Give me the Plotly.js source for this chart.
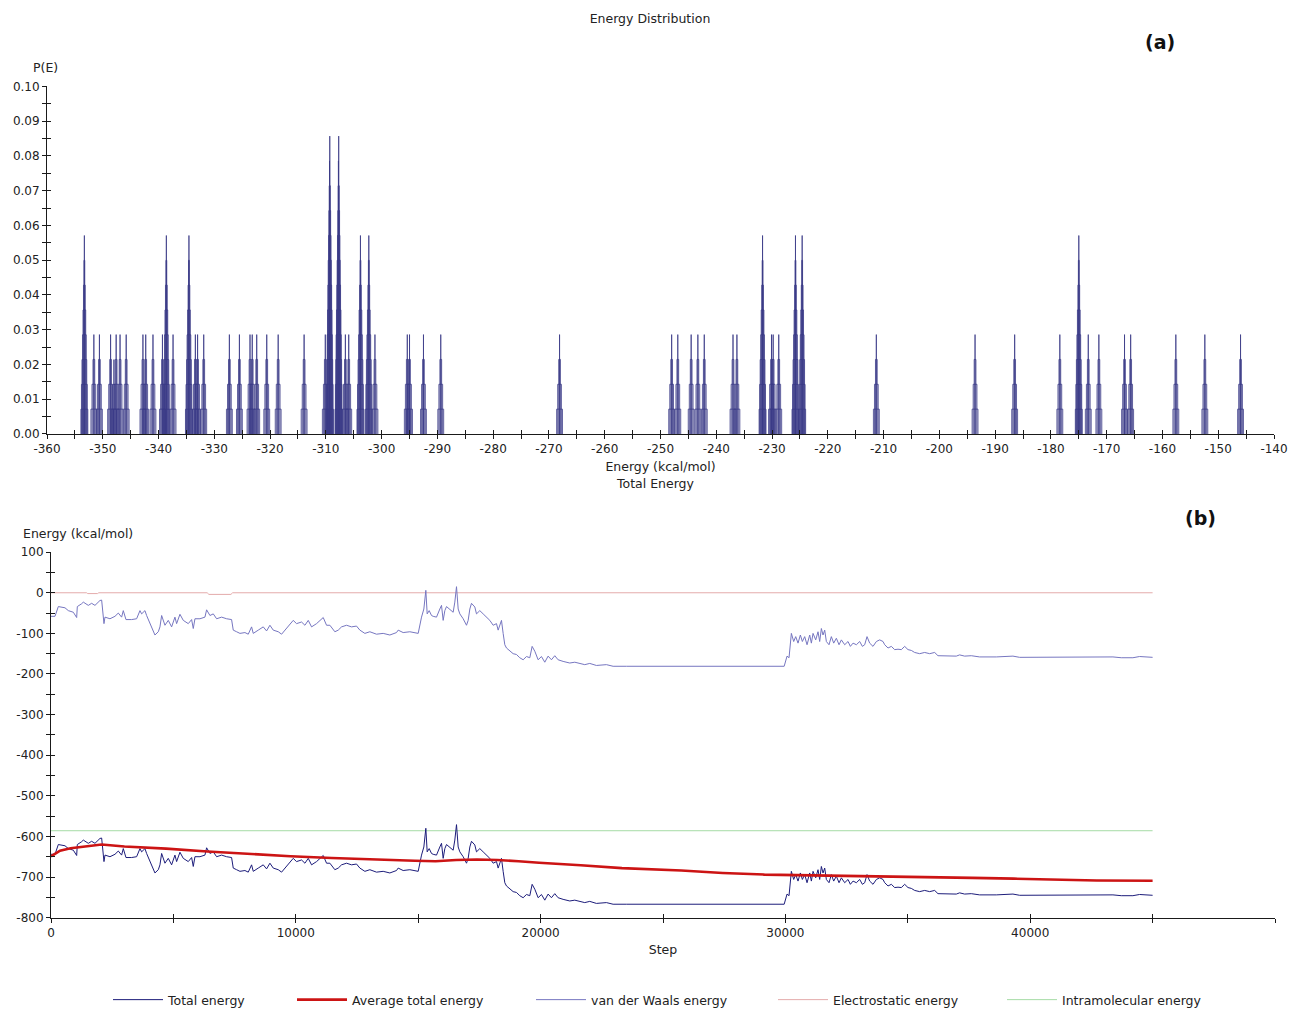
<!DOCTYPE html>
<html>
<head>
<meta charset="utf-8">
<title>Energy Distribution / Total Energy</title>
<script src="https://cdn.plot.ly/plotly-3.0.1.min.js"></script>
<style>
  html, body { margin: 0; padding: 0; background: #ffffff; }
  #chart { width: 1292px; height: 1015px; }
</style>
</head>
<body>
<div id="chart"></div>
<script>
// ---------- (a) Energy distribution: peak energies (kcal/mol) and probabilities ----------
const peakEnergy = [
  -353.3, -351.6, -350.6, -348.6, -348.0, -347.6, -346.9, -345.8, -342.8, -342.3,
  -341.0, -339.3, -338.6, -337.4, -334.55, -333.4, -333.0, -331.9, -327.3, -325.5,
  -323.6, -323.2, -322.4, -320.6, -318.55, -313.9, -310.1, -309.3, -307.7, -306.5,
  -305.9, -303.8, -302.3, -301.2, -295.4, -295.0, -292.5, -289.4, -268.1, -248.0,
  -246.9, -244.5, -243.3, -242.15, -237.0, -236.3, -231.7, -230.1, -229.8, -228.8,
  -225.8, -224.6, -211.3, -193.6, -186.5, -178.4, -175.0, -173.3, -171.4, -166.8,
  -165.7, -157.6, -152.4, -146.0
];
const peakProb = [
  0.0571, 0.0286, 0.0286, 0.0286, 0.0214, 0.0286, 0.0286, 0.0286, 0.0286, 0.0286,
  0.0286, 0.0286, 0.0571, 0.0286, 0.0571, 0.0286, 0.0286, 0.0286, 0.0286, 0.0286,
  0.0286, 0.0286, 0.0286, 0.0286, 0.0286, 0.0286, 0.0286, 0.0857, 0.0857, 0.0286,
  0.0286, 0.0571, 0.0571, 0.0286, 0.0286, 0.0286, 0.0286, 0.0286, 0.0286, 0.0286,
  0.0286, 0.0286, 0.0286, 0.0286, 0.0286, 0.0286, 0.0571, 0.0286, 0.0286, 0.0286,
  0.0571, 0.0571, 0.0286, 0.0286, 0.0286, 0.0286, 0.0571, 0.0286, 0.0286, 0.0286,
  0.0286, 0.0286, 0.0286, 0.0286
];
const probTicks = [0, 0.01, 0.02, 0.03, 0.04, 0.05, 0.06, 0.07, 0.08, 0.09, 0.10];
const energyTicks = [-360, -350, -340, -330, -320, -310, -300, -290, -280, -270, -260,
  -250, -240, -230, -220, -210, -200, -190, -180, -170, -160, -150, -140];

// ---------- (b) Energy along the simulation ----------
const mdStep = [
  0, 163, 299, 571, 708, 912, 1048, 1075, 1252, 1320,
  1524, 1660, 1796, 2001, 2069, 2164, 2205, 2409, 2613, 2749,
  2885, 2953, 3062, 3293, 3498, 3634, 3702, 3838, 3906, 4042,
  4178, 4246, 4383, 4451, 4519, 4655, 4791, 4927, 5063, 5131,
  5267, 5404, 5608, 5744, 5812, 5880, 6085, 6289, 6357, 6493,
  6629, 6765, 6969, 7173, 7377, 7445, 7582, 7718, 7922, 8058,
  8194, 8262, 8466, 8670, 8806, 8943, 9079, 9283, 9419, 9555,
  9691, 9895, 10031, 10235, 10372, 10508, 10644, 10848, 11120, 11256,
  11392, 11596, 11733, 11869, 12073, 12277, 12481, 12617, 12821, 13025,
  13297, 13569, 13842, 14114, 14182, 14386, 14658, 14862, 15000, 15136,
  15231, 15312, 15367, 15449, 15544, 15612, 15748, 15884, 15952, 16020,
  16088, 16156, 16292, 16428, 16496, 16565, 16633, 16701, 16837, 16973,
  17041, 17109, 17177, 17313, 17381, 17517, 17653, 17789, 17926, 18062,
  18198, 18266, 18402, 18470, 18538, 18606, 18742, 18878, 19014, 19150,
  19287, 19423, 19559, 19654, 19763, 19899, 20035, 20171, 20307, 20443,
  20579, 20715, 20919, 21056, 21192, 21396, 21600, 21804, 22008, 22144,
  22280, 22689, 22961, 23500, 26000, 29950, 30067, 30148, 30244, 30339,
  30421, 30516, 30611, 30693, 30788, 30884, 30993, 31061, 31129, 31238,
  31333, 31401, 31469, 31537, 31605, 31673, 31782, 31877, 31973, 32082,
  32191, 32286, 32422, 32558, 32654, 32763, 32899, 33035, 33144, 33239,
  33334, 33443, 33579, 33716, 33852, 33988, 34056, 34192, 34328, 34464,
  34600, 34736, 34872, 35008, 35144, 35280, 35484, 35689, 35893, 36097,
  36233, 36573, 36981, 37117, 37321, 37594, 37934, 38615, 39295, 39568,
  40656, 41337, 42018, 42698, 43379, 43719, 44195, 44467, 44876, 45000
];
const totalEnergy = [
  -644, -644, -620, -623, -630, -634, -647, -620, -613, -609,
  -617, -612, -617, -605, -604, -662, -646, -650, -644, -636,
  -646, -630, -652, -652, -650, -630, -638, -630, -642, -662,
  -682, -690, -682, -670, -642, -666, -654, -670, -646, -662,
  -639, -654, -662, -652, -674, -650, -650, -646, -628, -642,
  -638, -650, -646, -650, -652, -678, -682, -686, -684, -688,
  -670, -686, -678, -670, -680, -666, -678, -682, -688, -678,
  -670, -654, -662, -658, -666, -654, -670, -662, -647, -666,
  -666, -682, -678, -670, -666, -670, -668, -678, -686, -682,
  -688, -686, -690, -684, -678, -684, -682, -684, -686, -646,
  -626, -580, -638, -630, -642, -644, -646, -626, -617, -654,
  -630, -620, -626, -634, -609, -571, -626, -638, -650, -666,
  -654, -626, -612, -621, -638, -630, -638, -646, -654, -666,
  -662, -678, -654, -686, -714, -722, -730, -736, -738, -746,
  -751, -743, -746, -718, -730, -751, -743, -757, -742, -751,
  -741, -751, -755, -757, -759, -757, -760, -763, -760, -763,
  -765, -763, -767, -767, -767, -767, -742, -746, -686, -706,
  -694, -710, -690, -706, -694, -714, -690, -710, -686, -702,
  -682, -706, -674, -690, -678, -706, -714, -694, -710, -698,
  -714, -702, -714, -706, -718, -710, -714, -706, -718, -714,
  -694, -710, -718, -706, -702, -706, -714, -722, -718, -726,
  -725, -726, -718, -726, -728, -733, -736, -733, -736, -733,
  -741, -742, -742, -739, -742, -741, -744, -744, -742, -745,
  -745, -744, -745, -744, -744, -746, -746, -743, -744, -745
];
const vdwEnergy = [
  -58, -58, -34, -37, -44, -48, -61, -34, -27, -23,
  -31, -26, -31, -19, -18, -76, -60, -64, -58, -50,
  -60, -44, -66, -66, -64, -44, -52, -44, -56, -76,
  -96, -104, -96, -84, -56, -80, -68, -84, -60, -76,
  -53, -68, -76, -66, -88, -64, -64, -60, -42, -56,
  -52, -64, -60, -64, -66, -92, -96, -100, -98, -102,
  -84, -100, -92, -84, -94, -80, -92, -96, -102, -92,
  -84, -68, -76, -72, -80, -68, -84, -76, -61, -80,
  -80, -96, -92, -84, -80, -84, -82, -92, -100, -96,
  -102, -100, -104, -98, -92, -98, -96, -98, -100, -60,
  -40, 6, -52, -44, -56, -58, -60, -40, -31, -68,
  -44, -34, -40, -48, -23, 15, -40, -52, -64, -80,
  -68, -40, -26, -35, -52, -44, -52, -60, -68, -80,
  -76, -92, -68, -100, -128, -136, -144, -150, -152, -160,
  -165, -157, -160, -132, -144, -165, -157, -171, -156, -165,
  -155, -165, -169, -171, -173, -171, -174, -177, -174, -177,
  -179, -177, -181, -181, -181, -181, -156, -160, -100, -120,
  -108, -124, -104, -120, -108, -128, -104, -124, -100, -116,
  -96, -120, -88, -104, -92, -120, -128, -108, -124, -112,
  -128, -116, -128, -120, -132, -124, -128, -120, -132, -128,
  -108, -124, -132, -120, -116, -120, -128, -136, -132, -140,
  -139, -140, -132, -140, -142, -147, -150, -147, -150, -147,
  -155, -156, -156, -153, -156, -155, -158, -158, -156, -159,
  -159, -158, -159, -158, -158, -160, -160, -157, -158, -159
];
const avgStep = [0, 370, 800, 1300, 2070, 3000, 4700, 6390, 8080, 9780,
  11470, 13170, 14860, 15710, 16550, 17400, 18240, 19100, 19940, 21640,
  23320, 25750, 27440, 29140, 30830, 32540, 34240, 35930, 37630, 39330,
  41030, 42720, 45000];
const avgTotalEnergy = [-649, -635, -629, -625, -620, -625, -630, -637, -643, -649,
  -653, -657, -660, -661, -658, -657, -658, -661, -665, -671,
  -678, -684, -690, -694, -695.5, -696, -698, -700, -702, -704,
  -707, -708.5, -709];
const elecStep = [0, 1450, 1500, 1900, 1950, 6380, 6450, 7350, 7420, 45000];
const elecEnergy = [0, 0, -2, -2, 0, 0, -4, -4, 0, 0];
const intraStep = [0, 45000];
const intraEnergy = [-586, -586];
const stepTicks = [0, 10000, 20000, 30000, 40000, 50000];
const energyAxisTicks = [100, 0, -100, -200, -300, -400, -500, -600, -700, -800];

// ---------- outline towers for the distribution ----------
// each peak is drawn as nested open rectangles, one per probability level,
// narrowing towards the top so the peak ends in a single line
const LEVEL = 1 / 140;
const towerX = [], towerY = [];
peakEnergy.forEach((e, i) => {
  const p = peakProb[i];
  const n = Math.max(1, Math.round(p / LEVEL));
  for (let k = 1; k <= n; k++) {
    const f = (n - k) / n;
    const hw = 0.72 * Math.pow(f, 1.1);
    const top = p * k / n;
    towerX.push(e - hw, e - hw, e + hw, e + hw, null);
    towerY.push(0, top, top, 0, null);
  }
});

const FONT = 'DejaVu Sans, Verdana, sans-serif';
const INK = '#222222';
const LABEL = { family: FONT, size: 12.5, color: INK };

const traces = [
  { type: 'scatter', mode: 'lines', x: towerX, y: towerY, xaxis: 'x', yaxis: 'y',
    line: { color: '#3a3a86', width: 0.8 }, showlegend: false, hoverinfo: 'skip' },
  // carriers for the second tick layers (ticks crossing the axis lines)
  { type: 'scatter', mode: 'lines', x: [], y: [], xaxis: 'x3', yaxis: 'y3', showlegend: false, hoverinfo: 'skip' },
  { type: 'scatter', mode: 'lines', x: [], y: [], xaxis: 'x4', yaxis: 'y4', showlegend: false, hoverinfo: 'skip' },

  { type: 'scatter', mode: 'lines', name: 'Intramolecular energy', x: intraStep, y: intraEnergy,
    xaxis: 'x2', yaxis: 'y2', line: { color: '#a6dca6', width: 1 }, legend: 'legend5' },
  { type: 'scatter', mode: 'lines', name: 'Electrostatic energy', x: elecStep, y: elecEnergy,
    xaxis: 'x2', yaxis: 'y2', line: { color: '#e4abab', width: 1 }, legend: 'legend4' },
  { type: 'scatter', mode: 'lines', name: 'van der Waals energy', x: mdStep, y: vdwEnergy,
    xaxis: 'x2', yaxis: 'y2', line: { color: '#7676c0', width: 1 }, legend: 'legend3' },
  { type: 'scatter', mode: 'lines', name: 'Total energy', x: mdStep, y: totalEnergy,
    xaxis: 'x2', yaxis: 'y2', line: { color: '#1c1c7a', width: 1 }, legend: 'legend' },
  { type: 'scatter', mode: 'lines', name: 'Average total energy', x: avgStep, y: avgTotalEnergy,
    xaxis: 'x2', yaxis: 'y2', line: { color: '#cc1414', width: 2.6 }, legend: 'legend2' }
];

const W = 1292, H = 1015;
const px = v => v / W;
const py = v => 1 - v / H;

const tickFont = { family: FONT, size: 12, color: INK };
const baseAxis = {
  showgrid: false, zeroline: false, showline: true, linecolor: '#1a1a1a', linewidth: 1,
  ticks: 'outside', ticklen: 4, tickwidth: 1, tickcolor: '#1a1a1a', tickfont: tickFont,
  fixedrange: true
};
const innerTicks = {
  showgrid: false, zeroline: false, showline: false, showticklabels: false,
  ticks: 'inside', ticklen: 4, tickwidth: 1, tickcolor: '#1a1a1a', fixedrange: true
};

const legendBase = {
  orientation: 'h', yanchor: 'middle', y: py(1007), xanchor: 'left',
  font: LABEL, bgcolor: 'rgba(0,0,0,0)', itemwidth: 50
};

const layout = {
  width: W, height: H,
  margin: { l: 0, r: 0, t: 0, b: 0 },
  paper_bgcolor: '#ffffff', plot_bgcolor: '#ffffff',
  font: LABEL,
  title: { text: 'Energy Distribution', x: px(650), xanchor: 'center', y: py(19), yanchor: 'middle', font: LABEL },
  showlegend: true,
  legend: Object.assign({}, legendBase, { x: px(108) }),
  legend2: Object.assign({}, legendBase, { x: px(292) }),
  legend3: Object.assign({}, legendBase, { x: px(531) }),
  legend4: Object.assign({}, legendBase, { x: px(773) }),
  legend5: Object.assign({}, legendBase, { x: px(1002) }),

  xaxis: Object.assign({}, baseAxis, {
    domain: [px(47), px(1274)], anchor: 'y', range: [-360, -140],
    tickmode: 'array', tickvals: energyTicks, ticktext: energyTicks.map(String),
    minor: { dtick: 5, tick0: -360, ticks: 'outside', ticklen: 4, tickcolor: '#1a1a1a', showgrid: false },
    title: { text: 'Energy (kcal/mol)', font: LABEL, standoff: 6 }
  }),
  yaxis: Object.assign({}, baseAxis, {
    domain: [py(437), py(87)], anchor: 'x', range: [0, 0.10],
    tickmode: 'array', tickvals: probTicks, ticktext: probTicks.map(v => v.toFixed(2)),
    minor: { dtick: 0.005, tick0: 0, ticks: 'outside', ticklen: 4, tickcolor: '#1a1a1a', showgrid: false }
  }),
  xaxis3: Object.assign({}, innerTicks, { overlaying: 'x', anchor: 'y3', range: [-360, -140], dtick: 5, tick0: -360 }),
  yaxis3: Object.assign({}, innerTicks, { overlaying: 'y', anchor: 'x3', range: [0, 0.10], dtick: 0.005, tick0: 0 }),

  xaxis2: Object.assign({}, baseAxis, {
    domain: [px(51), px(1275)], anchor: 'y2', range: [0, 50000],
    tickmode: 'array', tickvals: stepTicks, ticktext: stepTicks.map(String),
    minor: { dtick: 5000, tick0: 0, ticks: 'outside', ticklen: 4, tickcolor: '#1a1a1a', showgrid: false },
    title: { text: 'Step', font: LABEL, standoff: 6 }
  }),
  yaxis2: Object.assign({}, baseAxis, {
    domain: [py(924), py(556)], anchor: 'x2', range: [-800, 100],
    tickmode: 'array', tickvals: energyAxisTicks, ticktext: energyAxisTicks.map(String),
    minor: { dtick: 50, tick0: 0, ticks: 'outside', ticklen: 4, tickcolor: '#1a1a1a', showgrid: false }
  }),
  xaxis4: Object.assign({}, innerTicks, { overlaying: 'x2', anchor: 'y4', range: [0, 50000], dtick: 5000, tick0: 0 }),
  yaxis4: Object.assign({}, innerTicks, { overlaying: 'y2', anchor: 'x4', range: [-800, 100], dtick: 50, tick0: 0 }),

  annotations: [
    { text: '<b>(a)</b>', xref: 'paper', yref: 'paper', x: px(1160), y: py(42), xanchor: 'center', yanchor: 'middle',
      showarrow: false, font: { family: FONT, size: 19, color: '#111' } },
    { text: 'P(E)', xref: 'paper', yref: 'paper', x: px(45), y: py(68), xanchor: 'center', yanchor: 'middle',
      showarrow: false, font: LABEL },
    { text: 'Total Energy', xref: 'paper', yref: 'paper', x: px(655), y: py(487), xanchor: 'center', yanchor: 'middle',
      showarrow: false, font: LABEL },
    { text: '<b>(b)</b>', xref: 'paper', yref: 'paper', x: px(1200), y: py(522), xanchor: 'center', yanchor: 'middle',
      showarrow: false, font: { family: FONT, size: 19, color: '#111' } },
    { text: 'Energy (kcal/mol)', xref: 'paper', yref: 'paper', x: px(21), y: py(537), xanchor: 'left', yanchor: 'middle',
      showarrow: false, font: LABEL }
  ]
};

Plotly.newPlot('chart', traces, layout, { staticPlot: true, displayModeBar: false });
</script>
</body>
</html>
